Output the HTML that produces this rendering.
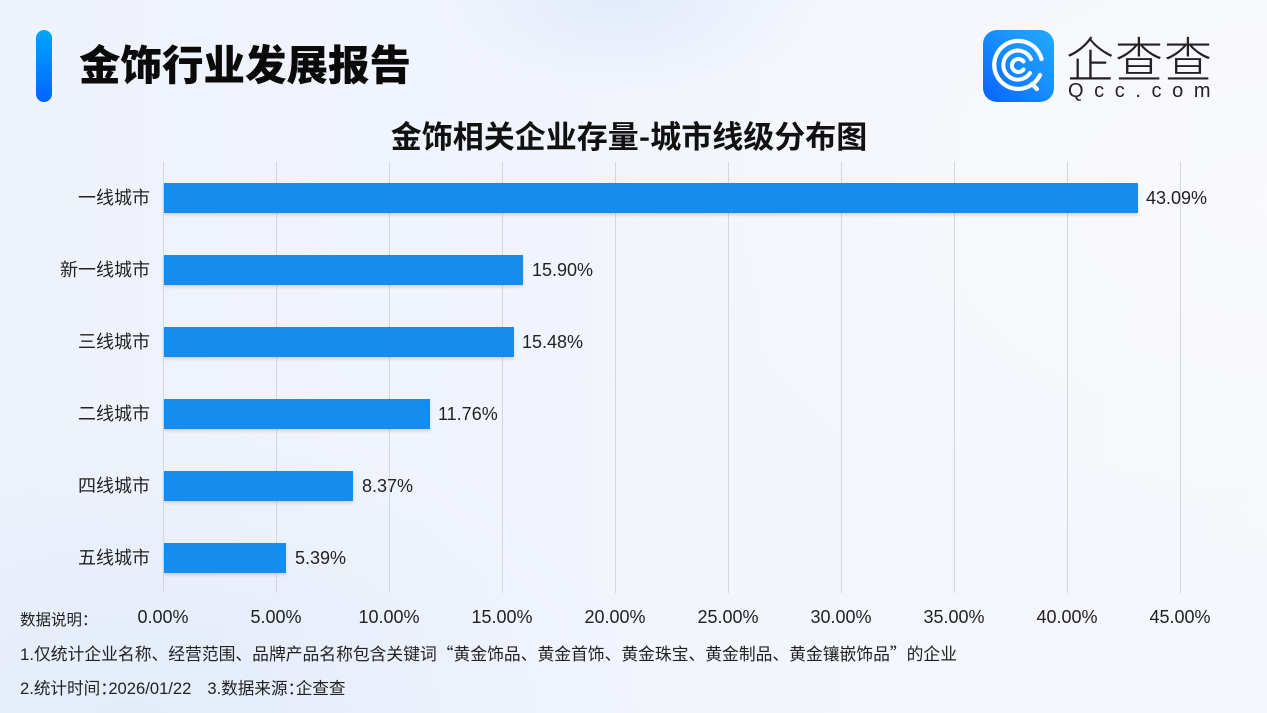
<!DOCTYPE html>
<html><head><meta charset="utf-8">
<style>
html,body{margin:0;padding:0;}
body{width:1267px;height:713px;position:relative;overflow:hidden;
background:
 radial-gradient(ellipse 190px 95px at 620px 0px, rgba(214,228,250,0.55), rgba(214,228,250,0) 100%),
 radial-gradient(ellipse 500px 300px at 150px 713px, rgba(220,232,250,0.6), rgba(220,232,250,0) 100%),
 radial-gradient(ellipse 600px 400px at 1267px 200px, rgba(250,250,253,0.8), rgba(250,250,253,0) 100%),
 linear-gradient(90deg,#eef2fb 0%,#f2f5fc 55%,#f5f7fc 100%);
font-family:"Liberation Sans","Noto Sans CJK SC",sans-serif;color:#222;}
.a{position:absolute;white-space:nowrap;}
.cjk{font-family:"Noto Sans CJK SC","Liberation Sans",sans-serif;}
.grid{position:absolute;top:162px;height:431px;width:1px;background:#d3d6dc;}
.bar{position:absolute;left:164px;height:30px;background:#168cec;box-shadow:0 2px 3px rgba(40,60,100,0.18);}
.cat{position:absolute;right:1117px;font-size:18px;line-height:30px;height:30px;font-family:"Liberation Sans","Noto Sans CJK SC",sans-serif;color:#222;}
.val{position:absolute;font-size:18px;line-height:30px;height:30px;color:#222;}
.tick{position:absolute;top:605px;width:100px;margin-left:-50px;text-align:center;font-size:18px;line-height:24px;color:#222;}
.col{letter-spacing:-8.5px;}
</style></head><body>

<!-- header -->
<div class="a" style="left:36px;top:30px;width:16px;height:72px;border-radius:8px;background:linear-gradient(180deg,#00a6ff,#0064ff);"></div>
<div class="a cjk" style="left:79px;top:38px;font-size:41.5px;line-height:48px;font-weight:900;color:#0a0a0a;">金饰行业发展报告</div>

<!-- logo -->
<div class="a" style="left:983px;top:30px;width:71px;height:72px;border-radius:14px;background:linear-gradient(45deg,#0a62ff 0%,#1890ff 55%,#23a9ff 100%);"></div>
<svg class="a" style="left:983px;top:30px;" width="71" height="72" viewBox="0 0 71 72">
 <g fill="none" stroke="#fff" stroke-linecap="round">
  <path d="M57 45 A24 24 0 1 1 58.5 29" stroke-width="4.2"/>
  <path d="M49 54 L54 59" stroke-width="4.2"/>
  <path d="M47 43 A14.5 14.5 0 1 1 48 29" stroke-width="4"/>
  <path d="M40.5 39.5 A6.5 6.5 0 1 1 40.5 31.5" stroke-width="4"/>
 </g>
</svg>
<div class="a cjk" style="left:1066px;top:30px;font-size:48px;line-height:52px;font-weight:300;letter-spacing:1px;color:#222;">企查查</div>
<div class="a" style="left:1068px;top:79px;font-size:20px;line-height:24px;letter-spacing:10.6px;color:#222;">Qcc.com</div>

<!-- chart title -->
<div class="a cjk" style="left:0;width:1258px;text-align:center;top:115px;font-size:31px;line-height:40px;font-weight:700;color:#111;">金饰相关企业存量-城市线级分布图</div>

<!-- grid -->
<div class="grid" style="left:163px"></div>
<div class="grid" style="left:276px"></div>
<div class="grid" style="left:389px"></div>
<div class="grid" style="left:502px"></div>
<div class="grid" style="left:615px"></div>
<div class="grid" style="left:728px"></div>
<div class="grid" style="left:841px"></div>
<div class="grid" style="left:954px"></div>
<div class="grid" style="left:1067px"></div>
<div class="grid" style="left:1180px"></div>

<!-- bars -->
<div class="bar" style="top:183px;width:974px"></div>
<div class="bar" style="top:255px;width:359px"></div>
<div class="bar" style="top:327px;width:350px"></div>
<div class="bar" style="top:399px;width:266px"></div>
<div class="bar" style="top:471px;width:189px"></div>
<div class="bar" style="top:543px;width:122px"></div>

<!-- categories -->
<div class="cat" style="top:183px">一线城市</div>
<div class="cat" style="top:255px">新一线城市</div>
<div class="cat" style="top:327px">三线城市</div>
<div class="cat" style="top:399px">二线城市</div>
<div class="cat" style="top:471px">四线城市</div>
<div class="cat" style="top:543px">五线城市</div>

<!-- values -->
<div class="val" style="top:183px;left:1146px">43.09%</div>
<div class="val" style="top:255px;left:532px">15.90%</div>
<div class="val" style="top:327px;left:522px">15.48%</div>
<div class="val" style="top:399px;left:438px">11.76%</div>
<div class="val" style="top:471px;left:362px">8.37%</div>
<div class="val" style="top:543px;left:295px">5.39%</div>

<!-- ticks -->
<div class="tick" style="left:163px">0.00%</div>
<div class="tick" style="left:276px">5.00%</div>
<div class="tick" style="left:389px">10.00%</div>
<div class="tick" style="left:502px">15.00%</div>
<div class="tick" style="left:615px">20.00%</div>
<div class="tick" style="left:728px">25.00%</div>
<div class="tick" style="left:841px">30.00%</div>
<div class="tick" style="left:954px">35.00%</div>
<div class="tick" style="left:1067px">40.00%</div>
<div class="tick" style="left:1180px">45.00%</div>

<!-- footer -->
<div class="a cjk" style="left:20px;top:607px;font-size:15.5px;line-height:24px;color:#222;">数据说明：</div>
<div class="a" style="left:20px;top:641px;font-size:16.8px;line-height:24px;color:#222;">1.<span class="cjk">仅统计企业名称、经营范围、品牌产品名称包含关键词“黄金饰品、黄金首饰、黄金珠宝、黄金制品、黄金镶嵌饰品”的企业</span></div>
<div class="a" style="left:20px;top:675px;font-size:16.6px;line-height:24px;color:#222;">2.<span class="cjk">统计时间<span class="col">：</span></span>2026/01/22<span style="display:inline-block;width:16px"></span>3.<span class="cjk">数据来源<span class="col">：</span>企查查</span></div>

</body></html>
